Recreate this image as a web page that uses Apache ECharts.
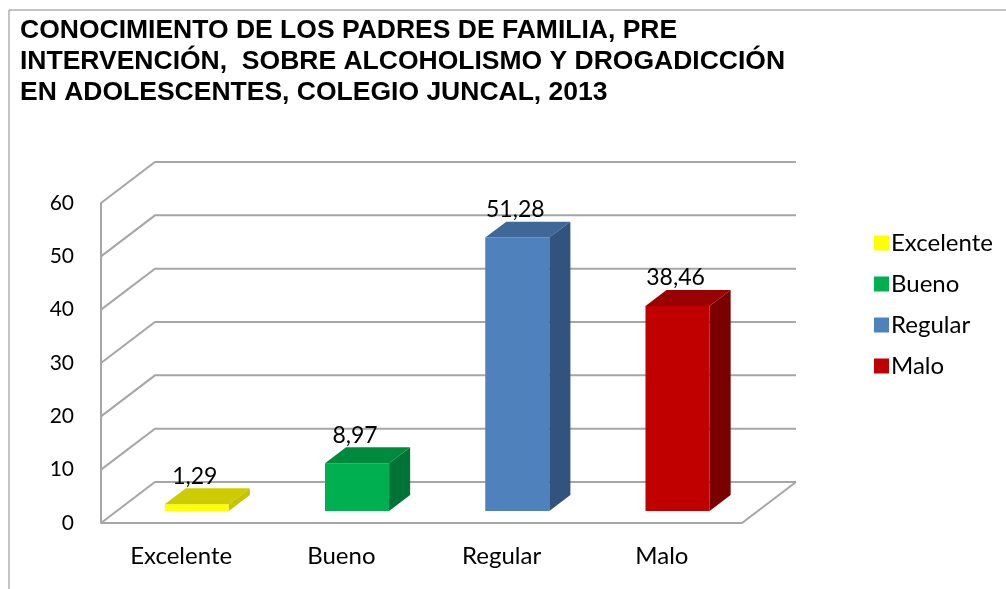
<!DOCTYPE html>
<html>
<head>
<meta charset="utf-8">
<script src="https://cdn.jsdelivr.net/npm/echarts@6/dist/echarts.min.js"></script>
<title></title>
<style>
  html, body { margin: 0; padding: 0; background: #fff; }
</style>
</head>
<body>
<div id="main" style="width: 1006px;height:589px;"></div>
<script type="text/javascript">
// datos del gráfico
var categories = ['Excelente', 'Bueno', 'Regular', 'Malo'];
var values = [1.29, 8.97, 51.28, 38.46];
var yTicks = [0, 10, 20, 30, 40, 50, 60];

// colores: frente, tapa, lado
var faceColors = ['#FFFF00', '#00B050', '#4F81BD', '#C00000'];
var topColors = ['#CCCC00', '#008A3E', '#3F6797', '#990000'];
var sideColors = ['#C4C400', '#007434', '#33537F', '#7A0000'];

// profundidad del efecto 3D
var DX = 54, DY = -41;
var D0 = 0.29, D1 = 0.68;

function fmt(v) {
  return v.toFixed(2).replace('.', ',');
}

function renderWall(params, api) {
  var cs = params.coordSys;
  var L = cs.x, R = cs.x + cs.width;
  var v = api.value(1);
  var y = api.coord([0, v])[1];
  var line = { stroke: '#A6A6A6', lineWidth: 2, fill: null };
  var children = [{
    type: 'polyline',
    shape: { points: [[L, y], [L + DX, y + DY], [R + DX, y + DY]] },
    style: line
  }];
  if (v === 0) {
    children.push({
      type: 'polyline',
      shape: { points: [[L, y], [R, y], [R + DX, y + DY]] },
      style: line
    });
  }
  return { type: 'group', children: children };
}

function renderBar(params, api) {
  var i = api.value(0), v = api.value(1);
  var idx = params.seriesIndex - 1;
  var band = api.size([1, 0])[0];
  var w = band * 0.4;
  var base = api.coord([i, 0]);
  var top = api.coord([i, v]);
  var x0 = base[0] - w / 2 + D0 * DX, x1 = x0 + w;
  var yb = base[1] + D0 * DY, yt = top[1] + D0 * DY;
  var ddx = (D1 - D0) * DX, ddy = (D1 - D0) * DY;
  return {
    type: 'group',
    children: [
      { type: 'rect', shape: { x: x0, y: yt, width: w, height: yb - yt }, style: { fill: faceColors[idx] } },
      { type: 'polygon', shape: { points: [[x0, yt], [x1, yt], [x1 + ddx, yt + ddy], [x0 + ddx, yt + ddy]] }, style: { fill: topColors[idx] } },
      { type: 'polygon', shape: { points: [[x1, yt], [x1 + ddx, yt + ddy], [x1 + ddx, yb + ddy], [x1, yb]] }, style: { fill: sideColors[idx] } },
      { type: 'text', style: { text: fmt(v), x: (x0 + x1) / 2 - 2, y: yt + ddy - 12, align: 'center', verticalAlign: 'middle', fontSize: 23, fontFamily: 'Lato', fill: '#000' } }
    ]
  };
}

var myChart = echarts.init(document.getElementById('main'));

var series = [{
  name: 'pared',
  type: 'custom',
  renderItem: renderWall,
  data: yTicks.map(function (t) { return [0, t]; }),
  silent: true,
  z: 1
}];
categories.forEach(function (c, i) {
  series.push({
    name: c,
    type: 'custom',
    renderItem: renderBar,
    itemStyle: { color: faceColors[i] },
    data: [[i, values[i]]],
    z: 2
  });
});

var option = {
  animation: false,
  title: {
    text: 'CONOCIMIENTO DE LOS PADRES DE FAMILIA, PRE\nINTERVENCIÓN,  SOBRE ALCOHOLISMO Y DROGADICCIÓN\nEN ADOLESCENTES, COLEGIO JUNCAL, 2013',
    left: 15,
    top: 10,
    textStyle: { fontFamily: 'Liberation Sans', fontSize: 26.5, fontWeight: 'bold', color: '#000', lineHeight: 31 }
  },
  graphic: [{
    type: 'rect',
    shape: { x: 9, y: 10, width: 1200, height: 800 },
    style: { fill: null, stroke: '#888', lineWidth: 1 },
    silent: true
  }],
  legend: {
    data: categories,
    orient: 'vertical',
    left: 869,
    top: 226,
    icon: 'rect',
    itemWidth: 15,
    itemHeight: 15,
    itemGap: 17,
    textStyle: { fontFamily: 'Lato', fontSize: 24, color: '#000', padding: [0, 0, 0, -3] }
  },
  grid: { left: 101, right: 264, top: 203, bottom: 66 },
  xAxis: {
    type: 'category',
    data: categories,
    axisLine: { show: false },
    axisTick: { show: false },
    axisLabel: { margin: 21, fontFamily: 'Lato', fontSize: 24, color: '#000' }
  },
  yAxis: {
    type: 'value',
    min: 0,
    max: 60,
    interval: 10,
    axisLine: { show: true, lineStyle: { color: '#A6A6A6', width: 2 } },
    axisTick: { show: false },
    splitLine: { show: false },
    axisLabel: { margin: 27, fontFamily: 'Lato', fontSize: 21, color: '#000' }
  },
  series: series
};

myChart.setOption(option);
</script>
</body>
</html>
